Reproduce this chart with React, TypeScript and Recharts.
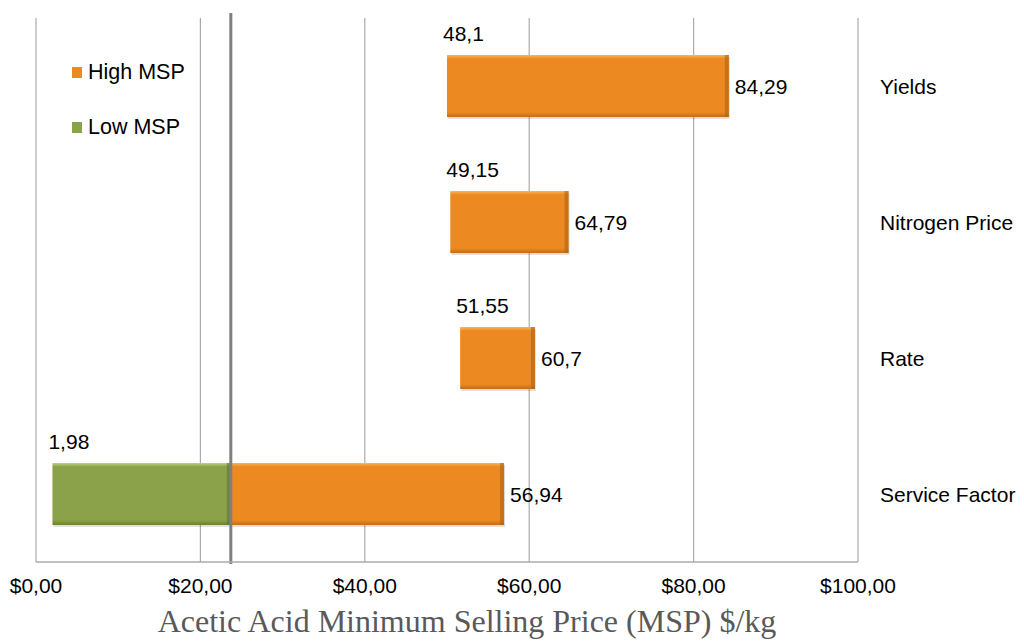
import { BarChart, Bar, XAxis, YAxis, CartesianGrid, ReferenceLine, Legend, LabelList } from 'recharts';

const categories = ['Yields', 'Nitrogen Price', 'Rate', 'Service Factor'];
// where each bar starts on the axis, as drawn
const lowStart = [50.0, 50.4, 51.6, 2.0];
// low value printed above each bar
const lowLabels = ['48,1', '49,15', '51,55', '1,98'];
const highValues = [84.29, 64.79, 60.7, 56.94];
const baseMsp = 23.7;
const xTicks = [0, 20, 40, 60, 80, 100];

const FONT = '"Liberation Sans", Arial, sans-serif';
const ORANGE = '#EC8A21';
const GREEN = '#8BA24A';

const fmtMoney = (v: number) => `$${v.toFixed(2).replace('.', ',')}`;
const fmtNum = (v: number) => String(v).replace('.', ',');

const rows = categories.map((name, i) => {
  const below = lowStart[i] < baseMsp;
  return {
    name,
    low: below ? [lowStart[i], baseMsp] : null,
    high: below ? [baseMsp, highValues[i]] : [lowStart[i], highValues[i]],
    highText: fmtNum(highValues[i]),
    // low label goes above whichever bar starts the row
    greenText: below ? lowLabels[i] : null,
    orangeText: below ? null : lowLabels[i],
  };
});

function makeShape(gradId: string, edge: string) {
  return (props: any) => {
    const { x, y, width, height } = props;
    if (!width || width <= 0) return <g />;
    return (
      <g>
        <rect x={x + 1} y={y + 2} width={width} height={height} fill="rgba(0,0,0,0.12)" />
        <rect x={x} y={y} width={width} height={height} fill={`url(#${gradId})`} />
        <rect x={x + width - 4} y={y} width={4} height={height} fill={edge} opacity={0.55} />
      </g>
    );
  };
}

const topLabel = (props: any) => {
  const { x, y, value } = props;
  if (value == null || value === '') return null;
  return (
    <text x={x - 4} y={y - 22} dominantBaseline="central" fontSize={21} fontFamily={FONT} fill="#000">
      {value}
    </text>
  );
};

const endLabel = (props: any) => {
  const { x, y, width, height, value } = props;
  return (
    <text x={x + width + 6} y={y + height / 2} dominantBaseline="central" fontSize={21} fontFamily={FONT} fill="#000">
      {value}
    </text>
  );
};

const LegendBox = () => (
  <div style={{ fontFamily: FONT, fontSize: 21.5, color: '#000', lineHeight: '24px' }}>
    {[
      { label: 'High MSP', color: ORANGE },
      { label: 'Low MSP', color: GREEN },
    ].map((item, i) => (
      <div key={item.label} style={{ display: 'flex', alignItems: 'center', marginTop: i ? 31 : 0 }}>
        <span style={{ width: 10, height: 11, background: item.color, marginRight: 6, display: 'inline-block' }} />
        {item.label}
      </div>
    ))}
  </div>
);

export default function App() {
  return (
    <div style={{ position: 'absolute', left: 0, top: 0, width: 1024, height: 641, background: '#fff' }}>
      <BarChart
        width={1024}
        height={641}
        data={rows}
        layout="vertical"
        margin={{ top: 18, right: 0, bottom: 0, left: 36 }}
        barSize={62}
        barGap={-62}
      >
        <defs>
          <linearGradient id="gOrange" x1="0" y1="0" x2="0" y2="1">
            <stop offset="0%" stopColor="#F9B65C" />
            <stop offset="6%" stopColor={ORANGE} />
            <stop offset="92%" stopColor={ORANGE} />
            <stop offset="100%" stopColor="#C06D18" />
          </linearGradient>
          <linearGradient id="gGreen" x1="0" y1="0" x2="0" y2="1">
            <stop offset="0%" stopColor="#BCD484" />
            <stop offset="6%" stopColor={GREEN} />
            <stop offset="92%" stopColor={GREEN} />
            <stop offset="100%" stopColor="#6C8036" />
          </linearGradient>
        </defs>
        <CartesianGrid horizontal={false} stroke="#ababab" strokeWidth={1.2} />
        <XAxis
          type="number"
          domain={[0, 100]}
          ticks={xTicks}
          height={79}
          axisLine={{ stroke: '#ababab', strokeWidth: 1.5 }}
          tickLine={false}
          tickSize={0}
          tickMargin={0}
          tick={(p: any) => (
            <text x={p.x} y={p.y + 23} textAnchor="middle" dominantBaseline="central" fontSize={21} fontFamily={FONT} fill="#000">
              {fmtMoney(p.payload.value)}
            </text>
          )}
          label={{
            content: (p: any) => {
              const vb = p.viewBox || {};
              return (
                <text
                  x={vb.x + vb.width / 2 + 20}
                  y={vb.y + 59}
                  textAnchor="middle"
                  dominantBaseline="central"
                  fontSize={32}
                  fontFamily='"Liberation Serif", "Times New Roman", serif'
                  fill="#595959"
                >
                  Acetic Acid Minimum Selling Price (MSP) $/kg
                </text>
              );
            },
          }}
        />
        <YAxis
          type="category"
          dataKey="name"
          orientation="right"
          width={166}
          axisLine={false}
          tickLine={false}
          tickSize={0}
          tickMargin={0}
          tick={(p: any) => (
            <text x={p.x + 22} y={p.y} dominantBaseline="central" fontSize={21} fontFamily={FONT} fill="#000">
              {p.payload.value}
            </text>
          )}
        />
        <Legend
          layout="vertical"
          align="center"
          verticalAlign="middle"
          wrapperStyle={{ left: 72, top: 60, width: 'auto' }}
          content={() => <LegendBox />}
        />
        <Bar dataKey="low" isAnimationActive={false} shape={makeShape('gGreen', '#5d6e2e')}>
          <LabelList dataKey="greenText" content={topLabel} />
        </Bar>
        <Bar dataKey="high" isAnimationActive={false} shape={makeShape('gOrange', '#a85f14')}>
          <LabelList dataKey="highText" content={endLabel} />
          <LabelList dataKey="orangeText" content={topLabel} />
        </Bar>
        <ReferenceLine
          x={baseMsp}
          stroke="#7f7f7f"
          strokeWidth={3}
          ifOverflow="visible"
          shape={(p: any) => (
            <line x1={p.x1} x2={p.x2} y1={Math.min(p.y1, p.y2) - 5} y2={Math.max(p.y1, p.y2) + 2} stroke="#7f7f7f" strokeWidth={3} />
          )}
        />
      </BarChart>
    </div>
  );
}
